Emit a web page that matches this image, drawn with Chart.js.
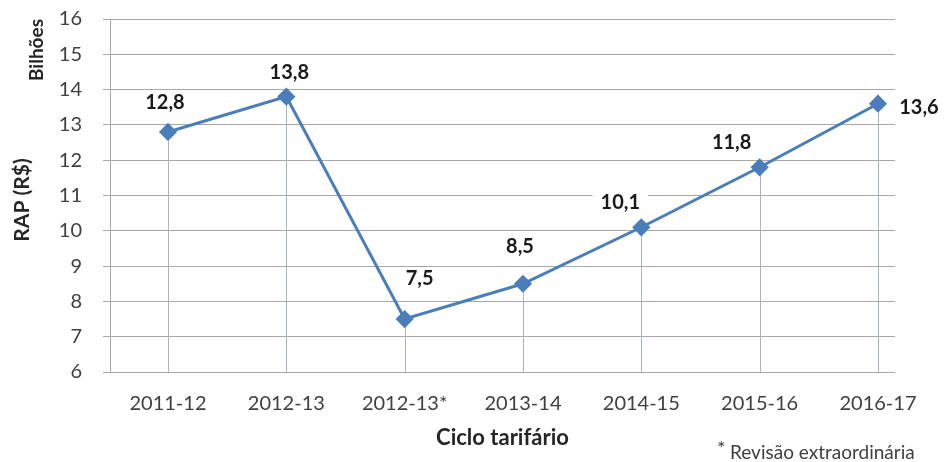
<!DOCTYPE html>
<html>
<head>
<meta charset="utf-8">
<script src="https://cdn.jsdelivr.net/npm/chart.js@4/dist/chart.umd.min.js"></script>
<style>
  html, body { margin: 0; padding: 0; background: #fff; }
  #wrap { width: 944px; height: 462px; }
</style>
</head>
<body>
<div id="wrap"><canvas id="grafico_rap"></canvas></div>
<script>
const ciclos = ['2011-12', '2012-13', '2012-13*', '2013-14', '2014-15', '2015-16', '2016-17']
const rap = [12.8, 13.8, 7.5, 8.5, 10.1, 11.8, 13.6]
const eixo_y = { min: 6, max: 16, passo: 1 }

const azul = '#4a7ebb'
const cinza_grade = '#a8a8a8'
const texto = '#404040'
const fonte = 'Lato, "Open Sans", sans-serif'

// deslocamento de cada rótulo em relação ao ponto (px)
const desloc_rotulos = [[-3, -29], [3, -24], [15, -41], [-3, -37], [-21, -25], [-28, -25], [41, 4]]

const formatar = v => v.toFixed(1).replace('.', ',')

// linhas verticais do ponto até o eixo
const linhas_queda = {
    id: 'linhas_queda',
    beforeDatasetsDraw(chart) {
        const ctx = chart.ctx
        const base = chart.chartArea.bottom
        ctx.save()
        ctx.strokeStyle = '#a7b4c6'
        ctx.lineWidth = 1
        chart.getDatasetMeta(0).data.forEach(p => {
            ctx.beginPath()
            ctx.moveTo(Math.round(p.x) + 0.5, p.y)
            ctx.lineTo(Math.round(p.x) + 0.5, base)
            ctx.stroke()
        })
        ctx.restore()
    }
}

// rótulos de valor, títulos laterais e nota
const textos = {
    id: 'textos',
    afterDatasetsDraw(chart) {
        const ctx = chart.ctx
        ctx.save()
        ctx.font = 'bold 20px ' + fonte
        ctx.textAlign = 'center'
        ctx.textBaseline = 'middle'
        chart.getDatasetMeta(0).data.forEach((p, i) => {
            const [dx, dy] = desloc_rotulos[i]
            const txt = formatar(rap[i])
            const w = ctx.measureText(txt).width
            const cx = p.x + dx, cy = p.y + dy
            ctx.fillStyle = '#fff'
            ctx.fillRect(cx - w / 2 - 8, cy - 11, w + 16, 22)
            ctx.fillStyle = '#1a1a1a'
            ctx.fillText(txt, cx, cy)
        })

        ctx.fillStyle = '#262626'
        ctx.font = 'bold 21px ' + fonte
        ctx.save()
        ctx.translate(22, 200)
        ctx.rotate(-Math.PI / 2)
        ctx.fillText('RAP (R$)', 0, 0)
        ctx.restore()
        ctx.font = 'bold 19px ' + fonte
        ctx.save()
        ctx.translate(37, 50)
        ctx.rotate(-Math.PI / 2)
        ctx.fillText('Bilhões', 0, 0)
        ctx.restore()

        ctx.fillStyle = texto
        ctx.textAlign = 'left'
        ctx.font = '20px ' + fonte
        ctx.fillText('*', 717, 449)
        ctx.font = '19px ' + fonte
        ctx.fillText('Revisão extraordinária', 730, 453)
        ctx.restore()
    }
}

const data = {
    datasets: [
        {
            label: 'RAP',
            data: rap.map((v, i) => ({ x: i, y: v })),
            borderColor: azul,
            backgroundColor: azul,
            borderWidth: 3,
            pointStyle: 'rectRot',
            pointRadius: 7,
            pointHoverRadius: 7,
            tension: 0
        }
    ]
}

const config = {
    type: 'line',
    data: data,
    options: {
        responsive: true,
        maintainAspectRatio: false,
        animation: false,
        layout: { padding: { left: 0, right: 49, top: 19, bottom: 0 } },
        plugins: {
            legend: { display: false },
            tooltip: { enabled: false }
        },
        scales: {
            x: {
                type: 'linear',
                min: -0.49,
                max: 6.144,
                afterBuildTicks: axis => {
                    axis.ticks = ciclos.map((c, i) => ({ value: i }))
                },
                afterFit: axis => { axis.height = 90 },
                grid: { display: false },
                border: { display: false },
                ticks: {
                    callback: v => ciclos[v],
                    color: texto,
                    font: { family: fonte, size: 20 },
                    padding: 12,
                    maxRotation: 0
                },
                title: {
                    display: true,
                    text: 'Ciclo tarifário',
                    color: '#262626',
                    font: { family: fonte, size: 22, weight: 'bold' },
                    padding: { top: 0, bottom: 11 }
                }
            },
            y: {
                min: eixo_y.min,
                max: eixo_y.max,
                afterFit: axis => {
                    axis.width = 110
                    axis.paddingTop = 0
                    axis.paddingBottom = 0
                },
                ticks: {
                    stepSize: eixo_y.passo,
                    color: texto,
                    font: { family: fonte, size: 20 },
                    padding: 21
                },
                grid: {
                    color: cinza_grade,
                    lineWidth: 1,
                    tickLength: 7
                },
                border: { color: cinza_grade, width: 1 }
            }
        }
    },
    plugins: [linhas_queda, textos]
}

const grafico = new Chart(document.querySelector('#grafico_rap'), config)
</script>
</body>
</html>
